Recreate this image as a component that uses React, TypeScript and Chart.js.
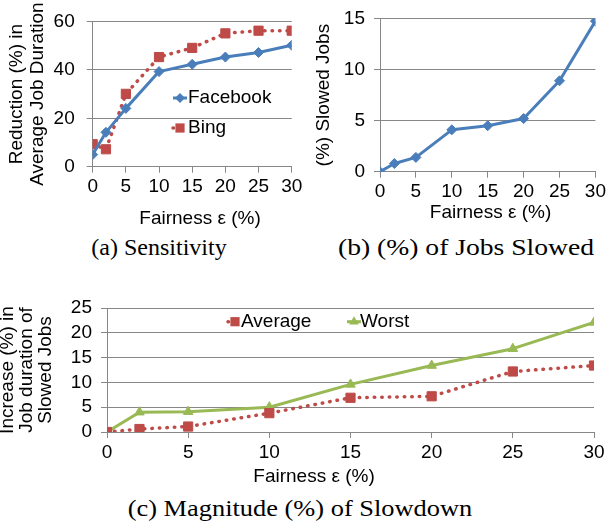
import React, { useEffect, useRef } from 'react';
import { Chart, registerables } from 'chart.js';

Chart.register(...registerables);

// ---------- data ----------
const EPSILON = [0, 2, 5, 10, 15, 20, 25, 30];
const FACEBOOK_REDUCTION = [5, 14.2, 24.1, 39.3, 42.3, 45.3, 47.2, 50.2];
const BING_REDUCTION = [9.3, 7.2, 30.1, 45.3, 49.1, 55.1, 56.2, 56.2];
const SLOWED_JOBS = [0, 0.8, 1.4, 4.1, 4.5, 5.2, 8.9, 14.75];
const AVERAGE_INCREASE = [0, 0.6, 1.1, 3.8, 6.9, 7.2, 12.2, 13.4];
const WORST_INCREASE = [0, 4.0, 4.1, 5.0, 9.6, 13.4, 16.8, 22.1];

const X_MAX = 30;
const X_STEP = 5;
const X_TITLE = 'Fairness ε (%)';

// ---------- styles ----------
const BLUE = '#4a7ebb';
const RED = '#be4b48';
const GREEN = '#98b954';
const GRID = '#878787';
const SANS = "'Liberation Sans', Arial, sans-serif";

const toPoints = (ys: number[]) => EPSILON.map((x, i) => ({ x, y: ys[i] }));

function drawMarker(ctx: CanvasRenderingContext2D, style: string, x: number, y: number, r: number, color: string) {
  ctx.fillStyle = color;
  ctx.beginPath();
  if (style === 'rectRot') {
    ctx.moveTo(x - r, y);
    ctx.lineTo(x, y - r);
    ctx.lineTo(x + r, y);
    ctx.lineTo(x, y + r);
  } else if (style === 'rect') {
    const h = r * Math.SQRT1_2;
    ctx.rect(x - h, y - h, 2 * h, 2 * h);
  } else if (style === 'triangle') {
    for (let k = 0; k < 3; k++) {
      const a = -Math.PI / 2 + (k * 2 * Math.PI) / 3;
      const px = x + Math.cos(a) * r;
      const py = y + Math.sin(a) * r;
      if (k === 0) ctx.moveTo(px, py);
      else ctx.lineTo(px, py);
    }
  }
  ctx.closePath();
  ctx.fill();
}

type LegendItem = { index: number; x: number; y: number };

function makeLegendPlugin(items: LegendItem[], textGap: number) {
  return {
    id: 'insideLegend',
    afterDatasetsDraw(chart: any) {
      const ctx: CanvasRenderingContext2D = chart.ctx;
      ctx.save();
      for (const it of items) {
        const ds: any = chart.data.datasets[it.index];
        ctx.strokeStyle = ds.borderColor;
        ctx.lineWidth = ds.borderWidth;
        ctx.lineCap = ds.borderCapStyle || 'butt';
        ctx.setLineDash(ds.borderDash || []);
        ctx.beginPath();
        ctx.moveTo(it.x - 7, it.y);
        ctx.lineTo(it.x + 7, it.y);
        ctx.stroke();
        ctx.setLineDash([]);
        drawMarker(ctx, ds.pointStyle, it.x, it.y, ds.pointRadius, ds.backgroundColor);
        ctx.fillStyle = '#000';
        ctx.font = `19px ${SANS}`;
        ctx.textAlign = 'left';
        ctx.textBaseline = 'middle';
        ctx.fillText(ds.label, it.x + textGap, it.y);
      }
      ctx.restore();
    },
  };
}

function makeXTitlePlugin(text: string, x: number, y: number) {
  return {
    id: 'xTitle',
    afterDraw(chart: any) {
      const ctx: CanvasRenderingContext2D = chart.ctx;
      ctx.save();
      ctx.fillStyle = '#000';
      ctx.font = `19px ${SANS}`;
      ctx.textAlign = 'center';
      ctx.textBaseline = 'middle';
      ctx.fillText(text, x, y);
      ctx.restore();
    },
  };
}

function xScale(height: number) {
  return {
    type: 'linear',
    min: 0,
    max: X_MAX,
    ticks: {
      stepSize: X_STEP,
      autoSkip: false,
      color: '#000',
      font: { family: SANS, size: 19, lineHeight: 1.2 },
      padding: 3,
      maxRotation: 0,
    },
    grid: { drawOnChartArea: false, drawTicks: true, tickLength: 6, color: GRID, lineWidth: 1 },
    border: { display: true, color: GRID, width: 1 },
    afterFit: (s: any) => {
      s.height = height;
    },
  };
}

function yScale(max: number, step: number, title: string | string[], titlePadTop: number, lineHeight: number, width: number, tickPad: number) {
  return {
    type: 'linear',
    min: 0,
    max,
    ticks: { stepSize: step, autoSkip: false, color: '#000', font: { family: SANS, size: 19, lineHeight: 1.0 }, padding: tickPad },
    grid: { color: GRID, lineWidth: 1, tickLength: 6, drawTicks: true },
    border: { display: true, color: GRID, width: 1 },
    title: {
      display: true,
      text: title,
      color: '#000',
      font: { family: SANS, size: 19, lineHeight },
      padding: { top: titlePadTop, bottom: 0 },
    },
    afterFit: (s: any) => {
      s.width = width;
    },
  };
}

function lineDataset(label: string, ys: number[], color: string, style: string, radius: number, dotted: boolean) {
  return {
    label,
    data: toPoints(ys),
    borderColor: color,
    backgroundColor: color,
    borderWidth: dotted ? 3.5 : 3,
    borderDash: dotted ? [0.5, 7] : [],
    borderCapStyle: dotted ? 'round' : 'butt',
    borderJoinStyle: 'round',
    pointStyle: style,
    pointRadius: radius,
    pointHoverRadius: radius,
    pointBorderWidth: 1,
    pointBackgroundColor: color,
    pointBorderColor: color,
    tension: 0,
    fill: false,
  };
}

function ChartCanvas(props: { left: number; top: number; width: number; height: number; build: () => any }) {
  const ref = useRef<HTMLCanvasElement>(null);
  useEffect(() => {
    const chart = new Chart(ref.current as HTMLCanvasElement, props.build());
    return () => chart.destroy();
  }, []);
  return (
    <canvas
      ref={ref}
      width={props.width}
      height={props.height}
      style={{ position: 'absolute', left: props.left, top: props.top, width: props.width, height: props.height }}
    />
  );
}

const baseOptions = {
  animation: false,
  responsive: false,
  events: [],
  plugins: { legend: { display: false }, tooltip: { enabled: false } },
};

function buildA() {
  return {
    type: 'line',
    data: {
      datasets: [
        lineDataset('Facebook', FACEBOOK_REDUCTION, BLUE, 'rectRot', 5, false),
        lineDataset('Bing', BING_REDUCTION, RED, 'rect', 6.5, true),
      ],
    },
    options: {
      ...baseOptions,
      layout: { padding: { left: 0, top: 15.7, right: 18.3, bottom: 0 } },
      scales: {
        x: xScale(63.3),
        y: yScale(60, 20, ['Reduction (%) in', 'Average Job Duration'], 6.3, 1.1, 92.7, 12),
      },
    },
    plugins: [
      makeLegendPlugin(
        [
          { index: 0, x: 180, y: 98 },
          { index: 1, x: 180, y: 128 },
        ],
        8
      ),
      makeXTitlePlugin(X_TITLE, 200, 219),
    ],
  };
}

function buildB() {
  return {
    type: 'line',
    data: {
      datasets: [lineDataset('Slowed Jobs', SLOWED_JOBS, BLUE, 'rectRot', 5, false)],
    },
    options: {
      ...baseOptions,
      layout: { padding: { left: 0, top: 13.3, right: 12.3, bottom: 0 } },
      scales: {
        x: xScale(58.3),
        y: yScale(15, 5, '(%) Slowed Jobs', 12.6, 1.2, 80, 9),
      },
    },
    plugins: [makeXTitlePlugin(X_TITLE, 190.5, 213)],
  };
}

function buildC() {
  return {
    type: 'line',
    data: {
      datasets: [
        lineDataset('Average', AVERAGE_INCREASE, RED, 'rect', 6.5, true),
        lineDataset('Worst', WORST_INCREASE, GREEN, 'triangle', 5.5, false),
      ],
    },
    options: {
      ...baseOptions,
      layout: { padding: { left: 0, top: 38, right: 15, bottom: 0 } },
      scales: {
        x: xScale(62),
        y: yScale(25, 5, ['Increase (%) in', 'Job duration of', 'Slowed Jobs'], -2, 1.0, 107, 9),
      },
    },
    plugins: [
      makeLegendPlugin(
        [
          { index: 0, x: 235, y: 51.7 },
          { index: 1, x: 354, y: 51.7 },
        ],
        6
      ),
      makeXTitlePlugin(X_TITLE, 314, 207),
    ],
  };
}

const captionStyle = (cx: number, cy: number, sx: number): React.CSSProperties => ({
  position: 'absolute',
  left: cx - 250,
  width: 500,
  top: cy - 14,
  height: 28,
  lineHeight: '28px',
  textAlign: 'center',
  fontFamily: "'Liberation Serif', 'Times New Roman', serif",
  fontSize: 24,
  color: '#000',
  whiteSpace: 'nowrap',
  transform: `scaleX(${sx})`,
  transformOrigin: 'center center',
});

export default function App() {
  return (
    <div style={{ position: 'absolute', left: 0, top: 0, width: 609, height: 524, background: '#fff', overflow: 'hidden' }}>
      <ChartCanvas left={0} top={0} width={310} height={230} build={buildA} />
      <ChartCanvas left={300} top={0} width={309} height={230} build={buildB} />
      <ChartCanvas left={0} top={270} width={609} height={224} build={buildC} />
      <div style={captionStyle(159, 247, 1.0)}>(a) Sensitivity</div>
      <div style={captionStyle(466, 247, 1.15)}>(b) (%) of Jobs Slowed</div>
      <div style={captionStyle(300, 508, 1.1)}>(c) Magnitude (%) of Slowdown</div>
    </div>
  );
}
